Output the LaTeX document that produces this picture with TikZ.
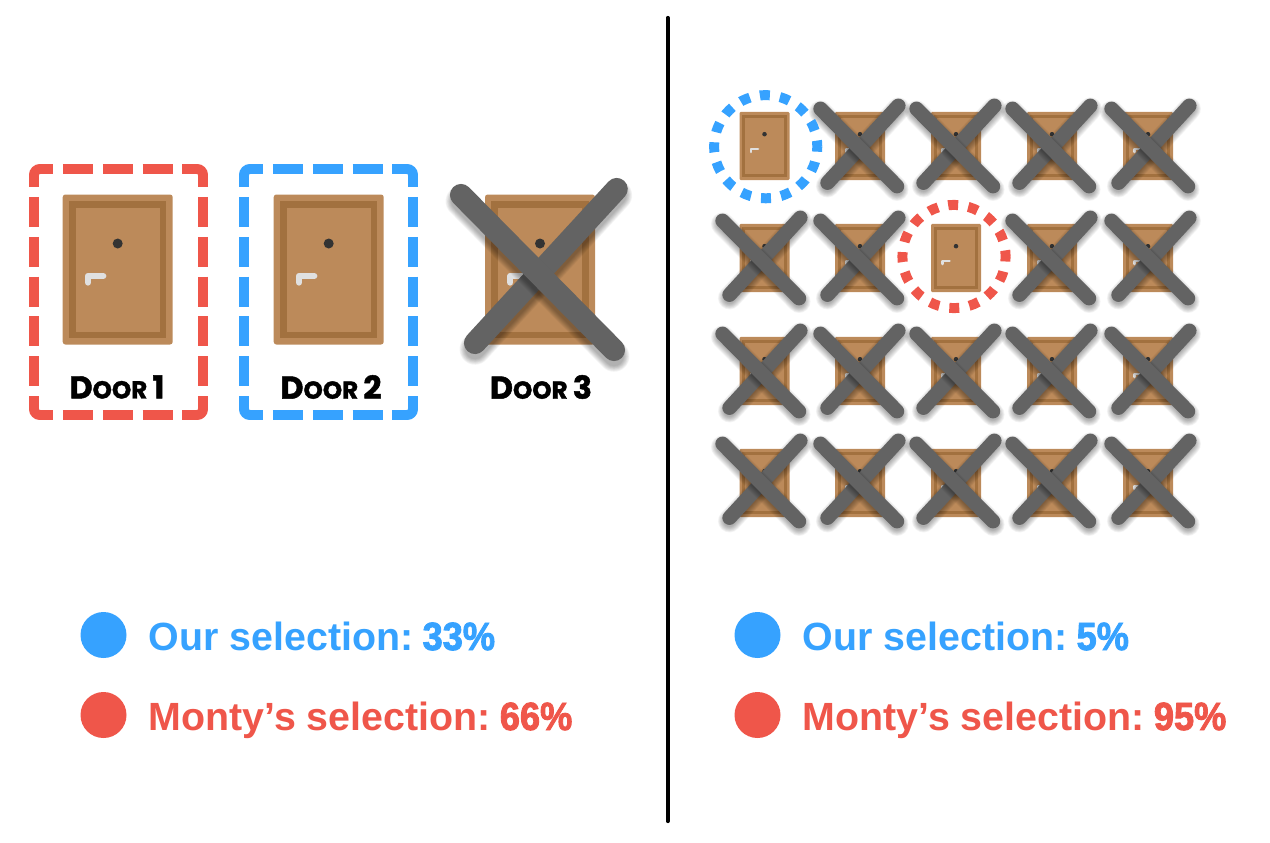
\documentclass[tikz,border=0pt]{standalone}
\usepackage{fontspec}
\setmainfont{Liberation Sans}
\newfontfamily\labelfont[BoldFeatures={FakeBold=1.5}]{Poppins}
\newfontfamily\heavyfont[BoldFeatures={FakeBold=2.2,FakeStretch=0.92}]{Liberation Sans}
\definecolor{montyred}{HTML}{EF564A}
\definecolor{ourblue}{HTML}{36A2FF}
\definecolor{doorlight}{HTML}{BC8A5A}
\definecolor{doordark}{HTML}{A2713F}
\definecolor{crossgrey}{HTML}{636363}
\tikzset{
	legendtext/.style={anchor=base west, inner sep=0pt, font=\fontsize{22.4}{24}\selectfont\bfseries},
	doorlabel/.style={inner sep=0pt, font=\labelfont\bfseries},
}
% one door, centred on (#1,#2), scaled by #3
\newcommand{\door}[3]{
	\begin{scope}[shift={(#1,#2)}, scale=#3]
		\fill[doorlight, rounded corners=#3*1.5pt] (-55,-75) rectangle (55,75);
		\fill[doordark] (-48.7,-68.5) rectangle (48.7,68.5);
		\fill[doorlight] (-42,-62) rectangle (42.3,62);
		\fill[black!80] (0,-26) circle (5);
		\draw[black!12, line width=#3*3.6pt, line cap=round, line join=round] (-14.5,6.5) -- (-29.7,6.5) -- (-29.7,13);
	\end{scope}
}
% one bar of a cross, with soft shadow; width in #5
\newcommand{\crossbar}[5]{
	\foreach \w in {5,4.2,3.4,2.6,1.8,1,0.2,-0.6,-1.4} {
		\draw[black, opacity=0.04, line cap=round, line width=#5+\w pt] ([yshift=-3.6pt]#1,#2) -- ([yshift=-3.6pt]#3,#4);
	}
	\draw[crossgrey, line cap=round, line width=#5] (#1,#2) -- (#3,#4);
}
\newcommand{\crossmark}[4]{
	\begin{scope}[shift={(#1,#2)}, scale=#3]
		\crossbar{-65}{73.5}{76.7}{-80.5}{#4}
		\crossbar{-79}{-74.5}{74}{80.5}{#4}
	\end{scope}
}
% dashed box round a door on the left
\newcommand{\selectbox}[2]{
	\begin{scope}[shift={(#1,0)}, #2, line width=5.67pt]
		\draw[dash pattern=on 17.01pt off 5.67pt, dash phase=11.9pt] (44,169) -- (193,169);
		\draw[dash pattern=on 17.01pt off 5.67pt, dash phase=11.9pt] (44,415) -- (193,415);
		\draw[dash pattern=on 17.01pt off 5.67pt, dash phase=12.47pt] (34,179) -- (34,405);
		\draw[dash pattern=on 17.01pt off 5.67pt, dash phase=12.47pt] (203,179) -- (203,405);
		\draw[rounded corners=3.4pt] (34,180) -- (34,169) -- (45,169);
		\draw[rounded corners=3.4pt] (192,169) -- (203,169) -- (203,180);
		\draw[rounded corners=3.4pt] (34,404) -- (34,415) -- (45,415);
		\draw[rounded corners=3.4pt] (192,415) -- (203,415) -- (203,404);
	\end{scope}
}
\newcommand{\doorname}[3]{
	\node[doorlabel] (#1) at (#2,387) {\fontsize{18}{20}\selectfont D\fontsize{14}{16}\selectfont OOR \fontsize{18}{20}\selectfont #3};
}

\begin{document}
\begin{tikzpicture}[x=0.02cm, y=-0.02cm]
	\useasboundingbox (0,0) rectangle (1270,842);
	\draw[black, line width=2.4pt, line cap=round] (667.7,18) -- (667.7,821);
	% three doors
	\selectbox{0}{montyred}
	\selectbox{210}{ourblue}
	\door{117.7}{269.5}{1}
	\door{328.7}{269.5}{1}
	\door{540}{269.5}{1}
	\crossmark{540}{269.5}{1}{12.6pt}
	\doorname{doorone}{117}{1}
	\doorname{doortwo}{331}{2}
	\doorname{doorthree}{541}{3}
	% twenty doors
	\foreach \cx in {764.5,860,956,1052,1148} {
		\foreach \cy in {146,258,371,483} {
			\door{\cx}{\cy}{0.4545}
		}
	}
	\foreach \cx/\cy in {860/146,956/146,1052/146,1151/146,
		762/258,860/258,1052/258,1151/258,
		762/371,860/371,956/371,1052/371,1151/371,
		762/481,860/481,956/481,1052/481,1151/481} {
		\crossmark{\cx}{\cy}{0.5}{8.2pt}
	}
	\draw[ourblue, line width=5.67pt, dash pattern=on 5.67pt off 5.82pt, dash phase=2.83pt] (765.7,146.7) circle (51.6);
	\draw[montyred, line width=5.67pt, dash pattern=on 5.67pt off 5.82pt, dash phase=2.83pt] (954,256.5) circle (51.6);
	% legends
	\fill[ourblue] (103.5,635) circle (23);
	\fill[montyred] (103.5,715) circle (23);
	\fill[ourblue] (757.5,635) circle (23);
	\fill[montyred] (757.5,715) circle (23);
	\node[legendtext, ourblue] (ourleft) at (148.5,650) {Our selection:\hspace{5.2pt}{\heavyfont 33\%}};
	\node[legendtext, montyred] (montyleft) at (148.5,730) {Monty’s selection:\hspace{5.2pt}{\heavyfont 66\%}};
	\node[legendtext, ourblue] (ourright) at (802.5,650) {Our selection:\hspace{5.2pt}{\heavyfont 5\%}};
	\node[legendtext, montyred] (montyright) at (802.5,730) {Monty’s selection:\hspace{5.2pt}{\heavyfont 95\%}};
\end{tikzpicture}
\end{document}
